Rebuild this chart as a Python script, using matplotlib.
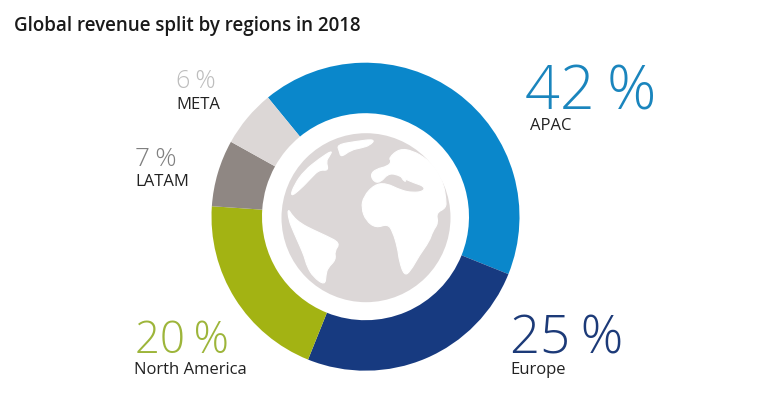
import matplotlib
matplotlib.use("Agg")
import matplotlib.pyplot as plt
from matplotlib.patches import Circle, PathPatch
from matplotlib.path import Path

W, H = 766, 393

regions = ["APAC", "Europe", "North America", "LATAM", "META"]
shares = [42, 25, 20, 7, 6]
colors = ["#0a87cb", "#173a80", "#a3b313", "#8f8783", "#dcd7d6"]
pct_colors = ["#1a85bd", "#1c3a78", "#9db53a", "#808080", "#bdbdbd"]

# x, baseline of the number, size in pt, baseline of the label (picture pixels)
pct_pos = [(525, 110, 44, 130), (510, 353, 38, 374), (135, 353, 31.5, 374),
           (135, 166, 19, 186), (176, 88, 18, 109)]
label_x = [530, 510, 134.5, 135.5, 176.5]

# globe outlines, in pixels of a 3x crop starting at (276, 128)
ocean_nw = [(42,208),(55,170),(85,128),(130,92),(170,66),(160,85),(150,100),(158,128),
            (130,125),(105,150),(75,182)]
greenland = [(183,50),(240,40),(298,33),(282,52),(255,60),(225,66),(195,88),(190,70)]
s_america = [(35,240),(50,265),(75,287),(110,305),(150,323),(193,345),(175,370),(180,395),
             (155,420),(150,440),(147,472),(112,447),(93,415),(85,385),(70,350),(52,310),(38,275)]
old_world = [(338,90),(370,62),(410,68),(452,93),(482,123),(503,170),(510,215),(510,240),
             (480,255),(487,285),(470,310),(460,340),(430,382),(403,430),(385,443),(370,400),
             (365,360),(350,310),(335,288),(300,300),(270,278),(256,240),(263,205),(295,170),
             (330,165),(375,187),(410,194),(443,190),(445,175),(415,165),(385,152),(360,138),
             (335,138),(315,162),(295,163),(283,140),(300,123),(335,115),(347,100)]
italy = [(372,142),(383,140),(392,158),(385,162)]


def crop_to_xy(pts):
    return [(276 + x / 3, H - (128 + y / 3)) for x, y in pts]


def smooth_shape(pts):
    # quadratic curves through the edge midpoints, rounds off the corners
    pts = crop_to_xy(pts)
    n = len(pts)
    mids = [((pts[i][0] + pts[(i + 1) % n][0]) / 2, (pts[i][1] + pts[(i + 1) % n][1]) / 2) for i in range(n)]
    verts = [mids[-1]]
    codes = [Path.MOVETO]
    for i in range(n):
        verts += [pts[i], mids[i]]
        codes += [Path.CURVE3, Path.CURVE3]
    return Path(verts, codes)


plt.rcParams['font.family'] = ['Open Sans', 'DejaVu Sans']
fig = plt.figure(figsize=(W / 100, H / 100), dpi=100, facecolor="white")
ax = fig.add_axes([0, 0, 1, 1])

cx, cy = 365.5, H - 216.7
ax.pie(shares, colors=colors, center=(cx, cy), radius=154, startangle=129.3,
       counterclock=False, wedgeprops={"width": 50.5, "linewidth": 0})

ax.add_patch(Circle((366, H - 217.7), 84.5, color="#dcd7d7", lw=0))
for shape in [ocean_nw, greenland, s_america, old_world]:
    ax.add_patch(PathPatch(smooth_shape(shape), facecolor="white", edgecolor="white", lw=0.8))
ax.add_patch(PathPatch(smooth_shape(italy), facecolor="white", edgecolor="white", lw=0.5))

ax.set_xlim(0, W)
ax.set_ylim(0, H)
ax.set_aspect("auto")
ax.axis("off")

ax.text(14, H - 31, "Global revenue split by regions in 2018", fontsize=13.5,
        fontweight=600, color="#1a1a1a", va="baseline")

for i in range(len(regions)):
    x, y, size, ly = pct_pos[i]
    ax.text(x, H - y, f"{shares[i]}\u2009%", fontsize=size, color=pct_colors[i],
            fontweight=300, va="baseline")
    ax.text(label_x[i], H - ly, regions[i], fontsize=12, color="#222222", va="baseline")

fig.savefig("out.png", dpi=100)
